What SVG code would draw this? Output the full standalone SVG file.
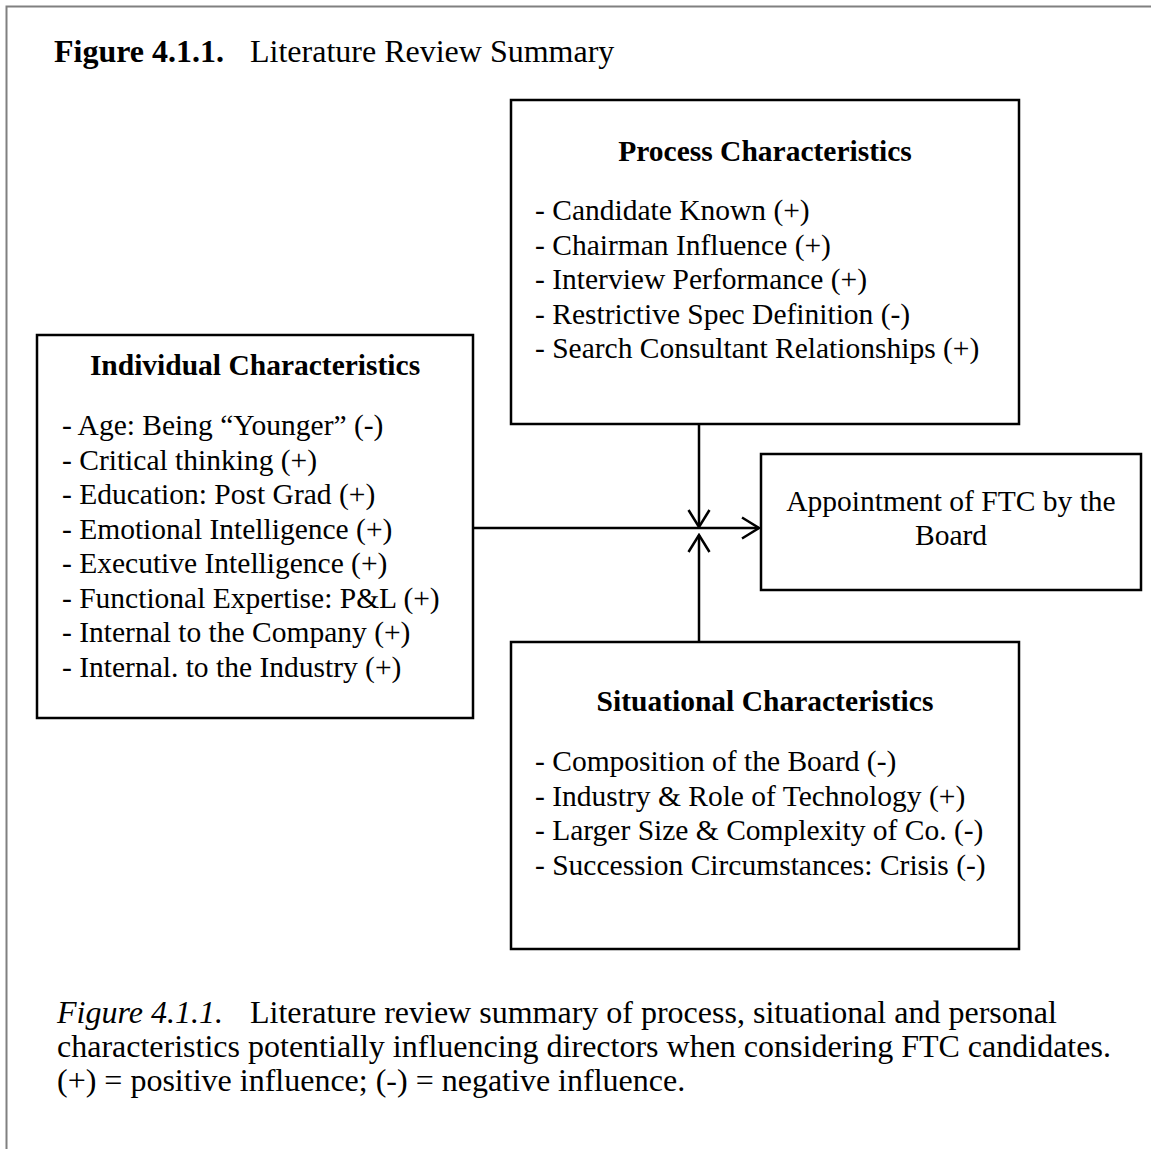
<svg xmlns="http://www.w3.org/2000/svg" width="1151" height="1149" viewBox="0 0 1151 1149">
<defs>
<style>
text{font-family:"Liberation Serif","Times New Roman",serif;font-size:29.5px;fill:#000}
.big{font-size:32px}
.b{font-weight:bold}
.i{font-style:italic}
.box{fill:#fff;stroke:#000;stroke-width:2.5}
.conn{fill:none;stroke:#000;stroke-width:2.5}
</style>
<marker id="arr" viewBox="0 0 20 24" refX="18" refY="12" markerWidth="20" markerHeight="24" markerUnits="userSpaceOnUse" orient="auto">
<path d="M1,1.5 L18,12 L1,22.5" fill="none" stroke="#000" stroke-width="2.5"/>
</marker>
</defs>
<rect width="1151" height="1149" fill="#fff"/>
<path d="M6.5,1149 V6.5 H1151" fill="none" stroke="#808080" stroke-width="2"/>
<g id="header">
<text class="big" x="54" y="62"><tspan class="b">Figure 4.1.1.</tspan><tspan x="250">Literature Review Summary</tspan></text>
</g>
<g id="process">
<rect class="box" x="511" y="100" width="508" height="324"/>
<text class="b" x="765" y="161" text-anchor="middle">Process Characteristics</text>
<text x="535" y="220">- Candidate Known (+)</text>
<text x="535" y="254.5">- Chairman Influence (+)</text>
<text x="535" y="289">- Interview Performance (+)</text>
<text x="535" y="323.5">- Restrictive Spec Definition (-)</text>
<text x="535" y="358">- Search Consultant Relationships (+)</text>
</g>
<g id="individual">
<rect class="box" x="37" y="335" width="436" height="383"/>
<text class="b" x="255" y="375" text-anchor="middle">Individual Characteristics</text>
<text x="62" y="435">- Age: Being “Younger” (-)</text>
<text x="62" y="469.5">- Critical thinking (+)</text>
<text x="62" y="504">- Education: Post Grad (+)</text>
<text x="62" y="538.5">- Emotional Intelligence (+)</text>
<text x="62" y="573">- Executive Intelligence (+)</text>
<text x="62" y="607.5">- Functional Expertise: P&amp;L (+)</text>
<text x="62" y="642">- Internal to the Company (+)</text>
<text x="62" y="676.5">- Internal. to the Industry (+)</text>
</g>
<g id="situational">
<rect class="box" x="511" y="642" width="508" height="307"/>
<text class="b" x="765" y="711" text-anchor="middle">Situational Characteristics</text>
<text x="535" y="771">- Composition of the Board (-)</text>
<text x="535" y="805.5">- Industry &amp; Role of Technology (+)</text>
<text x="535" y="840">- Larger Size &amp; Complexity of Co. (-)</text>
<text x="535" y="874.5">- Succession Circumstances: Crisis (-)</text>
</g>
<g id="appointment">
<rect class="box" x="761" y="454" width="380" height="136"/>
<text x="951" y="511" text-anchor="middle">Appointment of FTC by the</text>
<text x="951" y="545" text-anchor="middle">Board</text>
</g>
<g id="connectors">
<line class="conn" x1="473" y1="528" x2="759" y2="528" marker-end="url(#arr)"/>
<line class="conn" x1="699" y1="424" x2="699" y2="527" marker-end="url(#arr)"/>
<line class="conn" x1="699" y1="642" x2="699" y2="535" marker-end="url(#arr)"/>
</g>
<g id="caption">
<text class="big" x="57" y="1023"><tspan class="i">Figure 4.1.1.</tspan><tspan x="250">Literature review summary of process, situational and personal</tspan></text>
<text class="big" x="57" y="1057">characteristics potentially influencing directors when considering FTC candidates.</text>
<text class="big" x="57" y="1091">(+) = positive influence; (-) = negative influence.</text>
</g>
</svg>
